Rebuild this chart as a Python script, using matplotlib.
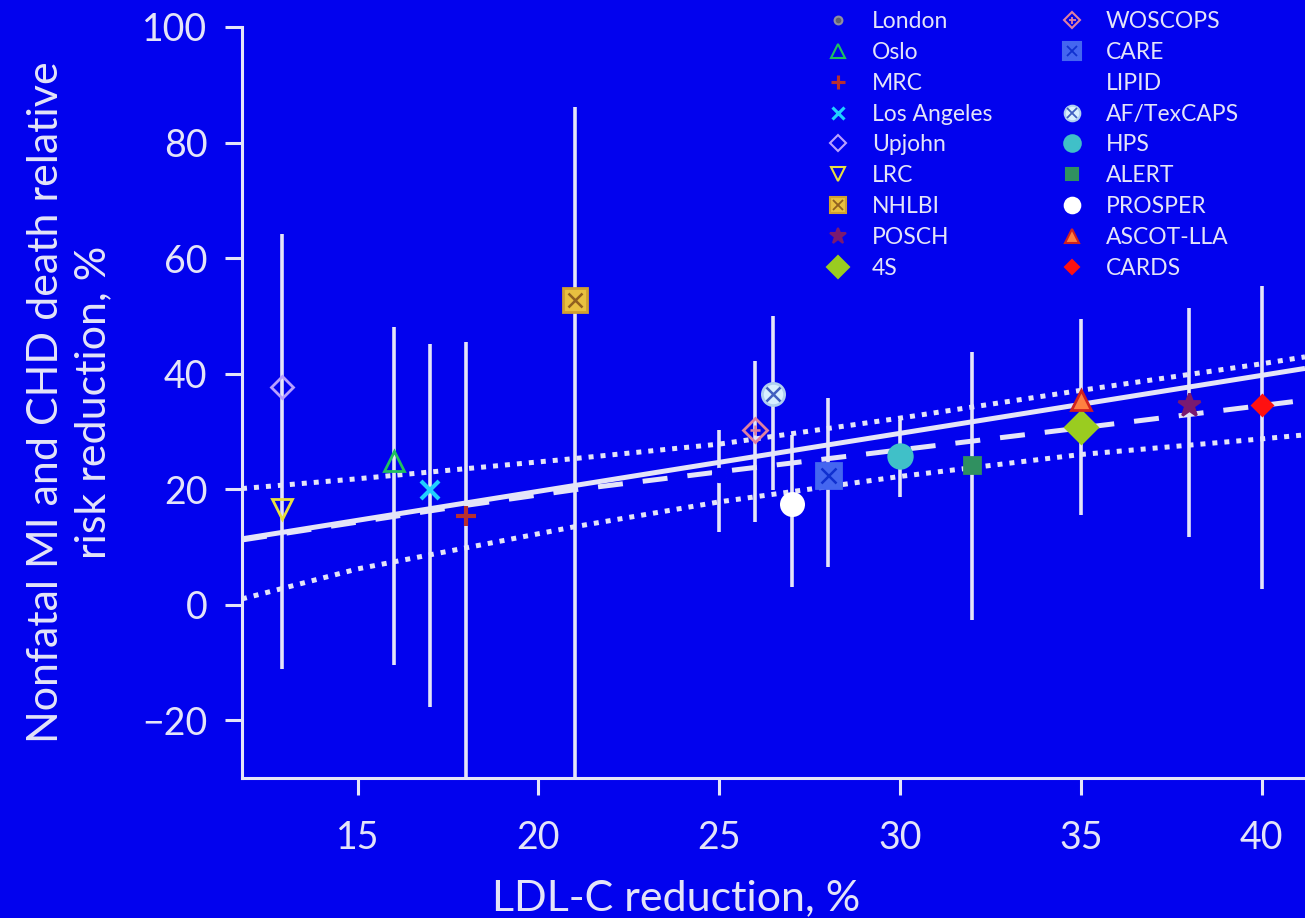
import numpy as np
import matplotlib
matplotlib.use('Agg')
import matplotlib.pyplot as plt
from matplotlib.lines import Line2D

plt.rcParams['font.family'] = ['Lato', 'DejaVu Sans']

BG = '#0202ee'
FG = '#e4e4f8'

# trials: LDL-C reduction (%), risk reduction (%), 95% CI
studies = ['London', 'Oslo', 'MRC', 'Los Angeles', 'Upjohn', 'LRC', 'NHLBI',
           'POSCH', '4S', 'WOSCOPS', 'CARE', 'LIPID', 'AF/TexCAPS', 'HPS',
           'ALERT', 'PROSPER', 'ASCOT-LLA', 'CARDS']
ldl_red = [25, 16, 18, 17, 12.9, 12.9, 21, 38, 35, 26, 28, 25, 26.5, 30,
           32, 27, 35, 40]
risk_red = [22.5, 24.8, 15.4, 19.9, 37.7, 16.6, 52.8, 34.6, 30.8, 30.3,
            22.5, 22.5, 36.4, 25.8, 24.2, 17.4, 35.5, 34.6]
ci_low = [12.6, -10.4, -35, -17.7, np.nan, -11.2, -35, 11.8, 15.6, 14.4,
          6.6, np.nan, 19.9, 18.7, -2.6, 3.1, np.nan, 2.8]
ci_high = [30.3, 48.1, 45.4, 45.2, np.nan, 64.1, 86.2, 51.3, 49.5, 42.1,
           35.7, np.nan, 49.9, 32.0, 43.8, 29.4, np.nan, 55.1]

# regression line, alternative fit and confidence band
fit_x = [11.8, 41.2]
fit_y = [11.4, 40.9]
alt_x = [11.8, 15, 18, 21, 25, 30, 35, 41.2]
alt_y = [11.2, 14.3, 17.2, 19.9, 23.0, 26.8, 30.6, 35.4]
band_x = [11.8, 15, 21, 25, 30, 35, 40, 41.2]
band_hi = [20.1, 21.8, 25.3, 27.8, 32.3, 37.1, 41.7, 42.9]
band_lo = [1.0, 6.2, 13.5, 17.8, 22.2, 26.0, 28.7, 29.4]

xticks = [15, 20, 25, 30, 35, 40]
yticks = [-20, 0, 20, 40, 60, 80, 100]

# marker, size, face, edge, overlay marker (or None), overlay colour
styles = {
    'London':      ('o', 8, '#606070', '#9090a0', None, None),
    'Oslo':        ('^', 15, 'none', '#20c060', None, None),
    'MRC':         ('+', 15, 'none', '#b83030', None, None),
    'Los Angeles': ('x', 13, 'none', '#20d0ff', None, None),
    'Upjohn':      ('D', 11, 'none', '#b8a0ff', None, None),
    'LRC':         ('v', 14, 'none', '#e8e040', None, None),
    'NHLBI':       ('s', 17, '#e8c040', '#d0a030', 'x', '#906020'),
    'POSCH':       ('*', 17, '#7a1a70', '#7a1a70', None, None),
    '4S':          ('D', 16, '#9acc20', '#9acc20', None, None),
    'WOSCOPS':     ('D', 12, 'none', '#e080a0', '+', '#e080a0'),
    'CARE':        ('s', 18, '#4466f0', '#4466f0', 'x', '#1030d0'),
    'LIPID':       ('o', 9, BG, BG, None, None),
    'AF/TexCAPS':  ('o', 16, '#d8f0ff', '#b0d0f0', 'x', '#4060c0'),
    'HPS':         ('o', 17, '#40c0c8', '#40c0c8', None, None),
    'ALERT':       ('s', 12, '#309060', '#309060', None, None),
    'PROSPER':     ('o', 16, 'white', 'white', None, None),
    'ASCOT-LLA':   ('^', 14, '#ff8040', '#d02020', None, None),
    'CARDS':       ('D', 10, '#ff1010', '#ff1010', None, None),
}

fig = plt.figure(figsize=(13.05, 9.18), dpi=100, facecolor=BG)
ax = fig.add_axes([242 / 1305, 1 - 778 / 918, 1 - 242 / 1305, (778 - 27) / 918])
ax.set_facecolor(BG)

ax.plot(band_x, band_hi, color=FG, lw=3.6, ls=(0, (1, 1.4)), zorder=2)
ax.plot(band_x, band_lo, color=FG, lw=3.6, ls=(0, (1, 1.4)), zorder=2)
ax.plot(fit_x, fit_y, color=FG, lw=3.6, solid_capstyle='butt', zorder=2)
ax.plot(alt_x, alt_y, color=FG, lw=3.6, ls=(0, (5, 4)), zorder=2)

lo = np.array(ci_low, dtype=float)
hi = np.array(ci_high, dtype=float)
ok = ~np.isnan(lo)
ax.vlines(np.array(ldl_red)[ok], lo[ok], hi[ok], color=FG, lw=2.6, zorder=3)

handles = []
for name, x, y in zip(studies, ldl_red, risk_red):
    m, s, fc, ec, om, oc = styles[name]
    mew = 3 if m in ('+', 'x') else 2
    ax.plot([x], [y], ls='none', marker=m, ms=s, mfc=fc, mec=ec, mew=mew,
            zorder=4)
    h = Line2D([], [], ls='none', marker=m, ms=s * 0.7, mfc=fc, mec=ec,
               mew=mew * 0.75)
    if name == 'LIPID':
        h = Line2D([], [], ls='none', marker='none')
    if om is not None:
        ax.plot([x], [y], ls='none', marker=om, ms=s * 0.6, mec=oc, mew=1.8,
                zorder=5)
        h2 = Line2D([], [], ls='none', marker=om, ms=s * 0.42, mec=oc, mew=1.3)
        h = (h, h2)
    handles.append(h)

ax.set_xlim(11.8, 41.2)
ax.set_ylim(-30, 100)
ax.set_xticks(xticks)
ax.set_yticks(yticks)
ax.set_yticklabels(['\u221220' if t < 0 else str(t) for t in yticks])

for side in ('top', 'right'):
    ax.spines[side].set_visible(False)
for side in ('left', 'bottom'):
    ax.spines[side].set_color(FG)
    ax.spines[side].set_linewidth(2.2)
ax.tick_params(colors=FG, labelcolor=FG, labelsize=27, length=12, width=2.2)
ax.tick_params(axis='y', pad=13)
ax.tick_params(axis='x', pad=18)

ax.set_xlabel('LDL-C reduction, %', color=FG, fontsize=31)
ax.xaxis.set_label_coords(0.408, -0.135)
ax.set_ylabel('Nonfatal MI and CHD death relative\nrisk reduction, %',
              color=FG, fontsize=31, linespacing=1.3)
ax.yaxis.set_label_coords(-0.122, 0.5)

leg = fig.legend(handles, studies, ncol=2, loc='upper left',
                 bbox_to_anchor=(827 / 1305, 1 - 11 / 918), frameon=False,
                 fontsize=16.5, handlelength=1.0, handletextpad=0.95,
                 columnspacing=3.0, labelspacing=0.43, borderpad=0,
                 borderaxespad=0)
for t in leg.get_texts():
    t.set_color(FG)

fig.savefig('out.png', dpi=100, facecolor=BG)
